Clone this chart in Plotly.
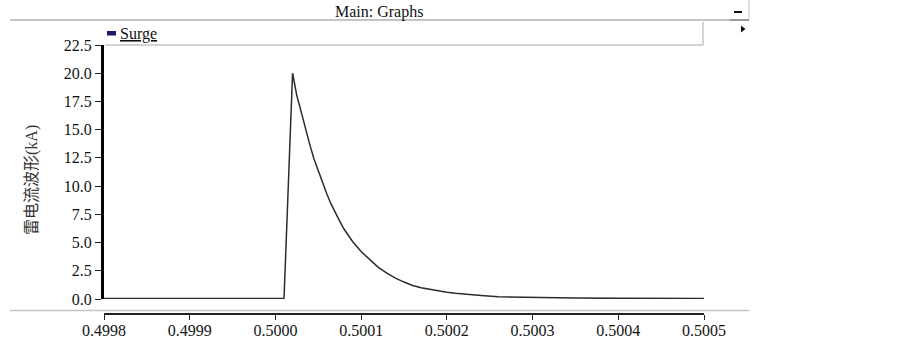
import plotly.graph_objects as go

# ---- data ----
time_s = [0.4998, 0.500010, 0.500011, 0.500012, 0.500013, 0.500014, 0.500015,
          0.500016, 0.500017, 0.500018, 0.500019, 0.500020,
          0.500022, 0.500025, 0.500030, 0.500035, 0.500040, 0.500045,
          0.500050, 0.500055, 0.500060, 0.500065, 0.500070, 0.500075,
          0.500080, 0.500090, 0.500100, 0.500110, 0.500120, 0.500130,
          0.500140, 0.500150, 0.500160, 0.500170, 0.500180, 0.500190,
          0.500200, 0.500210, 0.500220, 0.500240, 0.500260, 0.500300,
          0.500350, 0.500400, 0.500500]
surge_kA = [0.05, 0.05, 2.0, 4.0, 6.0, 8.0, 10.0,
            12.0, 14.0, 16.0, 18.0, 20.0,
            19.2, 18.0, 16.6, 15.1, 13.7, 12.4,
            11.3, 10.2, 9.3, 8.4, 7.6, 6.9,
            6.2, 5.1, 4.2, 3.5, 2.8, 2.3,
            1.85, 1.5, 1.2, 1.0, 0.85, 0.7,
            0.6, 0.5, 0.42, 0.3, 0.2, 0.12,
            0.08, 0.06, 0.05]

x_tickvals = [0.4998, 0.4999, 0.5000, 0.5001, 0.5002, 0.5003, 0.5004, 0.5005]
x_ticktext = ["0.4998", "0.4999", "0.5000", "0.5001", "0.5002", "0.5003", "0.5004", "0.5005"]
y_tickvals = [0.0, 2.5, 5.0, 7.5, 10.0, 12.5, 15.0, 17.5, 20.0, 22.5]
y_ticktext = ["0.0", "2.5", "5.0", "7.5", "10.0", "12.5", "15.0", "17.5", "20.0", "22.5"]

series_name = "Surge"
y_title = "雷电流波形(kA)"
header_title = "Main: Graphs"

W, H = 903, 340
SERIF = "Liberation Serif, Times New Roman, serif"


def px(x):
    return x / W


def py(y):
    return 1 - y / H


fig = go.Figure()
fig.add_trace(go.Scatter(x=time_s, y=surge_kA, mode="lines", name=series_name,
                         line=dict(color="#2b2b2b", width=1.5), showlegend=False,
                         hoverinfo="skip"))

fig.update_layout(
    template="none",
    width=W, height=H, autosize=False,
    margin=dict(l=0, r=0, t=0, b=0, pad=0),
    paper_bgcolor="white", plot_bgcolor="white",
    showlegend=False,
    font=dict(family=SERIF, size=16, color="#111"),
    xaxis=dict(range=[0.4998, 0.5005], domain=[px(104), px(704)],
               anchor="free", position=py(314), automargin=False,
               tickvals=x_tickvals, ticktext=x_ticktext,
               showline=True, linecolor="#222", linewidth=2,
               ticks="outside", ticklen=5, tickcolor="#222", tickwidth=1,
               ticklabelstandoff=-3,
               showgrid=False, zeroline=False,
               tickfont=dict(family=SERIF, size=16, color="#111")),
    yaxis=dict(range=[0, 22.5], domain=[py(299), py(45)], anchor="x", automargin=False,
               tickvals=y_tickvals, ticktext=y_ticktext,
               showline=True, linecolor="black", linewidth=3,
               ticks="outside", ticklen=6, tickcolor="#222", tickwidth=1,
               showgrid=False, zeroline=False,
               tickfont=dict(family=SERIF, size=16, color="#111")),
)

grey = "#c4c4c4"
shapes = [
    # header separator
    dict(type="line", xref="paper", yref="paper", x0=px(10), x1=px(749), y0=py(20), y1=py(20),
         line=dict(color=grey, width=2)),
    dict(type="line", xref="paper", yref="paper", x0=px(749), x1=px(749), y0=py(0), y1=py(20),
         line=dict(color=grey, width=1)),
    # legend box
    dict(type="line", xref="paper", yref="paper", x0=px(105), x1=px(703), y0=py(45), y1=py(45),
         line=dict(color=grey, width=1.5)),
    dict(type="line", xref="paper", yref="paper", x0=px(703), x1=px(703), y0=py(22), y1=py(45),
         line=dict(color=grey, width=1.5)),
    # bottom separator
    dict(type="line", xref="paper", yref="paper", x0=px(10), x1=px(749), y0=py(310.5), y1=py(310.5),
         line=dict(color=grey, width=1.5)),
    # minimize button underline
    dict(type="line", xref="paper", yref="paper", x0=px(730), x1=px(749), y0=py(20), y1=py(20),
         line=dict(color="#9a9a9a", width=2)),
    # minimize dash
    dict(type="line", xref="paper", yref="paper", x0=px(734), x1=px(742), y0=py(12), y1=py(12),
         line=dict(color="#111", width=2)),
    # legend swatch
    dict(type="rect", xref="paper", yref="paper", x0=px(107), x1=px(116), y0=py(35.5), y1=py(31),
         fillcolor="#1a1a6e", line=dict(width=0)),
    # small triangle
    dict(type="path", xref="paper", yref="paper",
         path=f"M {px(741)} {py(25.5)} L {px(745.5)} {py(29)} L {px(741)} {py(32.5)} Z",
         fillcolor="#111", line=dict(width=0)),
]
fig.update_layout(shapes=shapes)

annotations = [
    dict(text=header_title, xref="paper", yref="paper", x=px(379), y=py(12),
         xanchor="center", yanchor="middle", showarrow=False,
         font=dict(family=SERIF, size=16, color="#111")),
    dict(text=f"<u>{series_name}</u>", xref="paper", yref="paper", x=px(118), y=py(34),
         xanchor="left", yanchor="middle", showarrow=False,
         font=dict(family=SERIF, size=16, color="#111")),
    dict(text=y_title, xref="paper", yref="paper", x=px(32), y=py(180),
         xanchor="center", yanchor="middle", showarrow=False, textangle=-90,
         font=dict(family="Liberation Serif, Noto Sans CJK SC, serif", size=16, color="#333")),
]
fig.update_layout(annotations=annotations)

fig.write_html("out.html",
               config={"displayModeBar": False, "staticPlot": True},
               post_script="document.body.style.margin='0';document.body.style.overflow='hidden';")
